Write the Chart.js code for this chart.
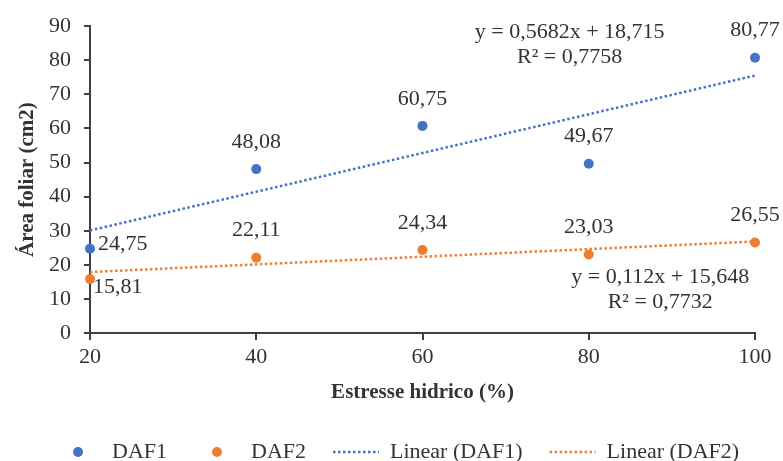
<!DOCTYPE html>
<html>
<head>
<meta charset="utf-8">
<script src="https://cdn.jsdelivr.net/npm/chart.js@4/dist/chart.umd.min.js"></script>
<style>
  html, body { margin: 0; padding: 0; background: #fff; }
  #chart { display: block; }
</style>
</head>
<body>
<canvas id="chart" width="783" height="461"></canvas>
<script>
// dados
const estresse = [20, 40, 60, 80, 100]
const daf1 = [24.75, 48.08, 60.75, 49.67, 80.77]
const daf2 = [15.81, 22.11, 24.34, 23.03, 26.55]

// linhas de tendência (extremos em x = 20 e x = 100)
const trendX = [20, 100]
const trend1 = [30.08, 75.53]
const trend2 = [17.89, 26.85]

const eq1 = ["y = 0,5682x + 18,715", "R² = 0,7758"]
const eq2 = ["y = 0,112x + 15,648", "R² = 0,7732"]

const yTicks = [0, 10, 20, 30, 40, 50, 60, 70, 80, 90]
const xTicks = [20, 40, 60, 80, 100]

const AZUL = "#4472C4"
const LARANJA = "#ED7D31"
const EIXO = "#404040"
const TEXTO = "#333333"
const FONTE = "'Liberation Serif', 'Times New Roman', serif"

const pares = (xs, ys) => xs.map((x, i) => ({ x: x, y: ys[i] }))
const fmt = v => v.toFixed(2).replace(".", ",")

// rótulos de valor + equações + legenda
const rotulosPlugin = {
    id: "rotulos",
    afterDatasetsDraw(chart) {
        const ctx = chart.ctx
        const xs = chart.scales.x
        const ys = chart.scales.y
        ctx.save()
        ctx.font = "22px " + FONTE
        ctx.fillStyle = TEXTO

        // valores dos pontos
        ;[0, 1].forEach(di => {
            const meta = chart.getDatasetMeta(di)
            const vals = chart.data.datasets[di].data
            meta.data.forEach((pt, i) => {
                const txt = fmt(vals[i].y)
                if (i === 0) {
                    ctx.textAlign = "left"
                    ctx.textBaseline = "middle"
                    if (di === 0) ctx.fillText(txt, pt.x + 8, pt.y - 4)
                    else ctx.fillText(txt, pt.x + 3, pt.y + 8)
                } else {
                    ctx.textAlign = "center"
                    ctx.textBaseline = "middle"
                    ctx.fillText(txt, pt.x, pt.y - 27)
                }
            })
        })

        // equações
        ctx.textAlign = "center"
        ctx.textBaseline = "middle"
        let ex = xs.getPixelForValue(77.7), ey = ys.getPixelForValue(88.3)
        ctx.fillText(eq1[0], ex, ey)
        ctx.fillText(eq1[1], ex, ey + 25)
        ex = xs.getPixelForValue(88.6)
        ey = ys.getPixelForValue(16.3)
        ctx.fillText(eq2[0], ex, ey)
        ctx.fillText(eq2[1], ex, ey + 25)

        // legenda
        const itens = [
            { t: "DAF1", c: AZUL, tipo: "ponto" },
            { t: "DAF2", c: LARANJA, tipo: "ponto" },
            { t: "Linear (DAF1)", c: AZUL, tipo: "linha" },
            { t: "Linear (DAF2)", c: LARANJA, tipo: "linha" }
        ]
        const ly = 452
        let lx = 55
        ctx.textAlign = "left"
        itens.forEach(it => {
            if (it.tipo === "ponto") {
                ctx.fillStyle = it.c
                ctx.beginPath()
                ctx.arc(lx + 23, ly, 5, 0, Math.PI * 2)
                ctx.fill()
            } else {
                ctx.strokeStyle = it.c
                ctx.lineWidth = 2.5
                ctx.setLineDash([2.5, 2.5])
                ctx.beginPath()
                ctx.moveTo(lx, ly)
                ctx.lineTo(lx + 46, ly)
                ctx.stroke()
                ctx.setLineDash([])
            }
            lx += 46 + 11
            ctx.fillStyle = TEXTO
            ctx.fillText(it.t, lx, ly)
            lx += ctx.measureText(it.t).width + 27
        })
        ctx.restore()
    }
}

new Chart(document.getElementById("chart"), {
    type: "scatter",
    data: {
        datasets: [
            {
                label: "DAF1",
                data: pares(estresse, daf1),
                backgroundColor: AZUL,
                borderColor: AZUL,
                pointRadius: 5,
                pointBorderWidth: 0,
                clip: false
            },
            {
                label: "DAF2",
                data: pares(estresse, daf2),
                backgroundColor: LARANJA,
                borderColor: LARANJA,
                pointRadius: 5,
                pointBorderWidth: 0,
                clip: false
            },
            {
                label: "Linear (DAF1)",
                data: pares(trendX, trend1),
                showLine: true,
                borderColor: AZUL,
                borderWidth: 2.5,
                borderDash: [2.5, 2.5],
                pointRadius: 0,
                clip: false
            },
            {
                label: "Linear (DAF2)",
                data: pares(trendX, trend2),
                showLine: true,
                borderColor: LARANJA,
                borderWidth: 2.5,
                borderDash: [2.5, 2.5],
                pointRadius: 0,
                clip: false
            }
        ]
    },
    options: {
        responsive: false,
        animation: false,
        layout: { padding: { left: 0, right: 28, top: 24, bottom: 0 } },
        plugins: {
            legend: { display: false },
            tooltip: { enabled: false }
        },
        scales: {
            x: {
                type: "linear",
                min: 20,
                max: 100,
                afterFit: s => { s.height = 128 },
                afterBuildTicks: s => { s.ticks = xTicks.map(v => ({ value: v })) },
                border: { display: true, color: EIXO, width: 2 },
                grid: { drawOnChartArea: false, drawTicks: true, tickLength: 7, color: EIXO, lineWidth: 2 },
                ticks: { color: TEXTO, font: { family: FONTE, size: 22 }, padding: 4, maxRotation: 0 },
                title: {
                    display: true,
                    text: "Estresse hidrico (%)",
                    color: TEXTO,
                    font: { family: FONTE, size: 21, weight: "bold" },
                    padding: { top: 0, bottom: 56 }
                }
            },
            y: {
                min: 0,
                max: 90,
                afterFit: s => { s.width = 90 },
                afterBuildTicks: s => { s.ticks = yTicks.map(v => ({ value: v })) },
                border: { display: true, color: EIXO, width: 2 },
                grid: { drawOnChartArea: false, drawTicks: true, tickLength: 6, color: EIXO, lineWidth: 2 },
                ticks: { color: TEXTO, font: { family: FONTE, size: 22 }, padding: 13 },
                title: {
                    display: true,
                    text: "Área foliar (cm2)",
                    color: TEXTO,
                    font: { family: FONTE, size: 21, weight: "bold" },
                    padding: { top: 15, bottom: 0 }
                }
            }
        }
    },
    plugins: [rotulosPlugin]
})
</script>
</body>
</html>
